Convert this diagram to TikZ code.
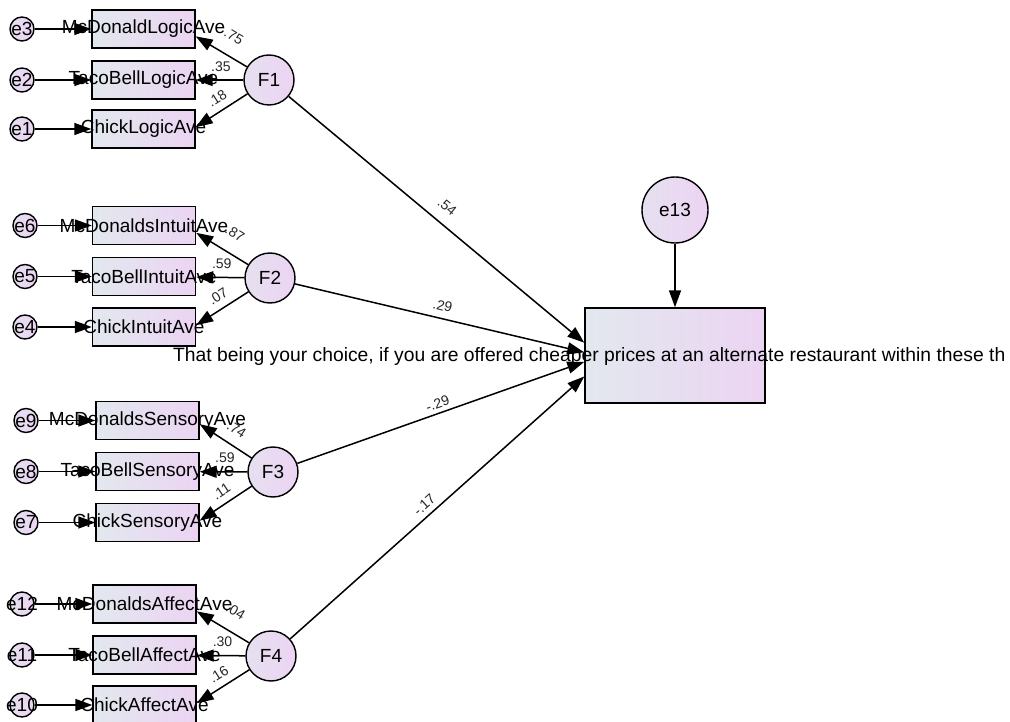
\documentclass[tikz,border=0pt]{standalone}
\usepackage{fontspec}
\setmainfont{Liberation Sans}
\usetikzlibrary{arrows.meta}
\definecolor{shade left}{RGB}{226,232,238}
\definecolor{shade right}{RGB}{236,212,243}
\newcommand{\wide}[1]{\makebox[0pt]{#1}}
\tikzset{manifest/.style={draw, line width=1.4pt, left color=shade left, right color=shade right,
      minimum width=103pt, minimum height=38pt, inner sep=0pt, font=\fontsize{19}{22}\selectfont},
    latent/.style={circle, draw, line width=1.4pt, left color=shade left!60!shade right, right color=shade right,
      minimum size=50pt, inner sep=0pt, font=\fontsize{19}{22}\selectfont},
    resid/.style={latent, minimum size=24pt},
    reg/.style={line width=1.5pt, -{Triangle[length=17pt, width=12pt]}},
    coef/.style={sloped, inner sep=0pt, text=black!85, font=\fontsize{14}{16}\selectfont}}

\begin{document}
\begin{tikzpicture}[x=1pt, y=-1pt]
    \useasboundingbox (0,0) rectangle (1010,722);
    % logic
    \node[manifest] (l1) at (143.5,29)  {\wide{McDonaldLogicAve}};
    \node[manifest] (l2) at (143.5,80)  {\wide{TacoBellLogicAve}};
    \node[manifest] (l3) at (143.5,129) {\wide{ChickLogicAve}};
    \node[resid] (e3) at (22,29)  {\wide{e3}};
    \node[resid] (e2) at (22,80)  {\wide{e2}};
    \node[resid] (e1) at (22,129) {\wide{e1}};
    \node[latent] (F1) at (269,80) {F1};
    % intuit
    \node[manifest] (i1) at (144,225.5) {\wide{McDonaldsIntuitAve}};
    \node[manifest] (i2) at (144,276.5) {\wide{TacoBellIntuitAve}};
    \node[manifest] (i3) at (144,327)   {\wide{ChickIntuitAve}};
    \node[resid] (e6) at (25,225.5) {\wide{e6}};
    \node[resid] (e5) at (25,276.5) {\wide{e5}};
    \node[resid] (e4) at (25,327)   {\wide{e4}};
    \node[latent] (F2) at (270,278) {F2};
    % sensory
    \node[manifest] (s1) at (147.5,420.5) {\wide{McDonaldsSensoryAve}};
    \node[manifest] (s2) at (147.5,471.5) {\wide{TacoBellSensoryAve}};
    \node[manifest] (s3) at (147.5,522.5) {\wide{ChickSensoryAve}};
    \node[resid] (e9) at (26,420.5) {\wide{e9}};
    \node[resid] (e8) at (26,471.5) {\wide{e8}};
    \node[resid] (e7) at (26,522.5) {\wide{e7}};
    \node[latent] (F3) at (273,472) {F3};
    % affect
    \node[manifest] (a1) at (144.5,604) {\wide{McDonaldsAffectAve}};
    \node[manifest] (a2) at (144.5,655) {\wide{TacoBellAffectAve}};
    \node[manifest] (a3) at (144.5,705) {\wide{ChickAffectAve}};
    \node[resid] (e12) at (22,604) {\wide{e12}};
    \node[resid] (e11) at (22,655) {\wide{e11}};
    \node[resid] (e10) at (22,705) {\wide{e10}};
    \node[latent] (F4) at (271,656) {F4};
    % outcome
    \node[manifest, minimum width=180pt, minimum height=95pt] (y) at (675,355.5) {};
    \node[anchor=base west, inner sep=0pt, font=\fontsize{19.3}{22}\selectfont] (ytext) at (173,361)
      {That being your choice, if you are offered cheaper prices at an alternate restaurant within these th};
    \node[latent, minimum size=66pt] (e13) at (675,210) {e13};

    \draw[reg] (e3) -- (l1);
    \draw[reg] (e2) -- (l2);
    \draw[reg] (e1) -- (l3);
    \draw[reg] (e6) -- (i1);
    \draw[reg] (e5) -- (i2);
    \draw[reg] (e4) -- (i3);
    \draw[reg] (e9) -- (s1);
    \draw[reg] (e8) -- (s2);
    \draw[reg] (e7) -- (s3);
    \draw[reg] (e12) -- (a1);
    \draw[reg] (e11) -- (a2);
    \draw[reg] (e10) -- (a3);

    \draw[reg] (F1) -- node[coef, pos=.45, above=14pt] {.75} (l1.-8);
    \draw[reg] (F1) -- node[coef, pos=.47, above=8pt]  {.35} (l2);
    \draw[reg] (F1) -- node[coef, pos=.45, above=7pt]  {.18} (l3.2);
    \draw[reg] (F2) -- node[coef, pos=.45, above=14pt] {.87} (i1.-8);
    \draw[reg] (F2) -- node[coef, pos=.47, above=8pt]  {.59} (i2);
    \draw[reg] (F2) -- node[coef, pos=.45, above=7pt]  {.07} (i3.2);
    \draw[reg] (F3) -- node[coef, pos=.45, above=10pt] {.74} (s1.-4);
    \draw[reg] (F3) -- node[coef, pos=.47, above=8pt]  {.59} (s2);
    \draw[reg] (F3) -- node[coef, pos=.45, above=7pt]  {.11} (s3.2);
    \draw[reg] (F4) -- node[coef, pos=.45, above=14pt] {.04} (a1.-8);
    \draw[reg] (F4) -- node[coef, pos=.47, above=8pt]  {.30} (a2);
    \draw[reg] (F4) -- node[coef, pos=.45, above=7pt]  {.16} (a3.2);

    \draw[reg] (F1) -- node[coef, pos=.5, above=11pt] {.54}  (y.172);
    \draw[reg] (F2) -- node[coef, pos=.5, above=7pt]  {.29}  (y.178);
    \draw[reg] (F3) -- node[coef, pos=.5, above=4pt]  {-.29} (y.184);
    \draw[reg] (F4) -- node[coef, pos=.48, above=5pt] {-.17} (y.193);
    \draw[reg] (e13) -- (y);
\end{tikzpicture}
\end{document}
